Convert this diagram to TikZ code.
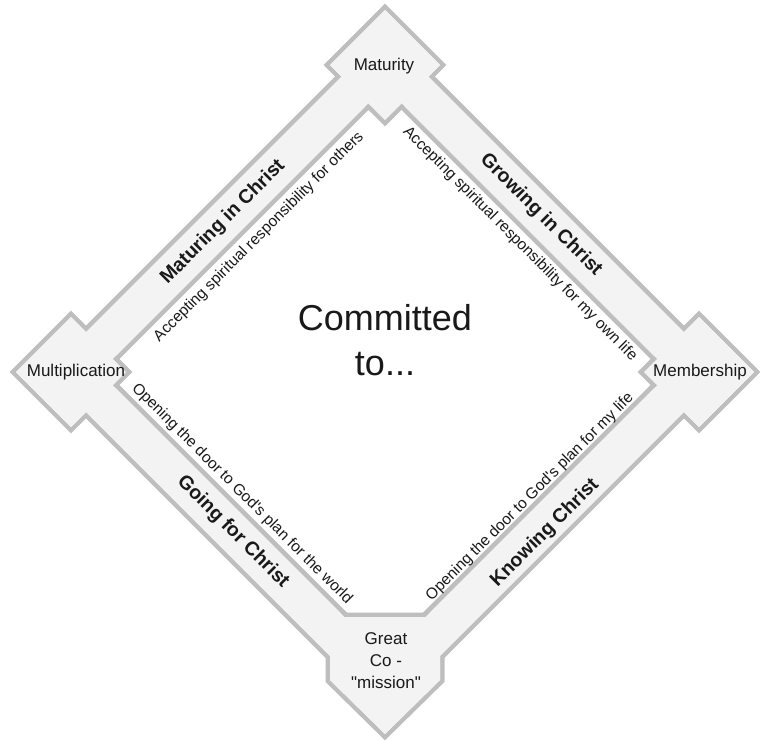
\documentclass[tikz,border=0pt]{standalone}
\usepackage{fontspec}
\newfontfamily\drawfont{Liberation Sans}
\usepackage{xcolor}
\definecolor{bandgray}{RGB}{243,243,243}
\definecolor{edgegray}{RGB}{190,190,190}
\definecolor{inkdark}{RGB}{25,25,25}
\newcommand{\rimwidth}{9pt}
\newcommand{\boxhalf}{55}
\newcommand{\router}{339}
\newcommand{\rinner}{285}
\tikzset{
    rim/.style={draw=edgegray, line width=\rimwidth, line join=miter},
    pane/.style={fill=bandgray},
    tile/.style 2 args={insert path={(#1) ++(0,-#2) -- ++(#2,#2) -- ++(-#2,#2) -- ++(-#2,-#2) -- cycle}},
    lip/.style={insert path={(330,617) -- (440,617) -- (440,680) -- (385,734) -- (330,680) -- cycle}},
    stage/.style={font=\drawfont\fontsize{17}{22}\selectfont, text=inkdark, align=center, inner sep=0pt},
    phase/.style={font=\drawfont\bfseries\fontsize{19.5}{23}\selectfont, text=inkdark, inner sep=0pt},
    aim/.style={font=\drawfont\fontsize{15.5}{18}\selectfont, text=inkdark, inner sep=0pt},
    core/.style={font=\drawfont\fontsize{36}{45}\selectfont, text=inkdark, align=center, inner sep=0pt}
}

\begin{document}
\begin{tikzpicture}[x=1pt, y=-1pt]
          \useasboundingbox (0,0) rectangle (760,740);

          \coordinate (hub) at (385,372);
          \coordinate (maturity) at (385,65);
          \coordinate (multiplication) at (71,372);
          \coordinate (membership) at (699,372);

          % outer rim: strokes first, fills on top
          \path[rim, tile={hub}{\router}];
          \path[rim, tile={maturity}{\boxhalf}];
          \path[rim, tile={multiplication}{\boxhalf}];
          \path[rim, tile={membership}{\boxhalf}];
          \path[rim, lip];
          \path[pane, tile={hub}{\router}];
          \path[pane, tile={maturity}{\boxhalf}];
          \path[pane, tile={multiplication}{\boxhalf}];
          \path[pane, tile={membership}{\boxhalf}];
          \path[pane, lip];

          % inner hole
          \path[fill=white, tile={hub}{\rinner}];
          \begin{scope}
            \clip[tile={hub}{\rinner}];
            \path[rim, tile={hub}{\rinner}];
            \path[rim, tile={maturity}{\boxhalf}];
            \path[rim, tile={multiplication}{\boxhalf}];
            \path[rim, tile={membership}{\boxhalf}];
            \path[rim, lip];
          \end{scope}
          \path[pane, tile={maturity}{\boxhalf}];
          \path[pane, tile={multiplication}{\boxhalf}];
          \path[pane, tile={membership}{\boxhalf}];
          \path[pane, lip];

          \node[stage] (maturity-label) at (384,66) {Maturity};
          \node[stage] (multiplication-label) at (76,372) {Multiplication};
          \node[stage] (membership-label) at (700,372) {Membership};
          \node[stage] (commission-label) at (386,661) {Great\\Co -\\"mission"};

          \node[core] (committed-label) at (385,340) {Committed\\to...};

          \node[phase, rotate=45] (maturing) at (223,222) {Maturing in Christ};
          \node[phase, rotate=-45] (growing) at (541,215) {Growing in Christ};
          \node[phase, rotate=-45] (going) at (233,532) {Going for Christ};
          \node[phase, rotate=45] (knowing) at (545,533) {Knowing Christ};

          \node[aim, rotate=45] (others-aim) at (259,237) {Accepting spiritual responsibility for others};
          \node[aim, rotate=-45] (ownlife-aim) at (520,244) {Accepting spiritual responsibility for my own life};
          \node[aim, rotate=-45] (world-aim) at (242,494) {Opening the door to God's plan for the world};
          \node[aim, rotate=45] (mylife-aim) at (530,497) {Opening the door to God's plan for my life};
        \end{tikzpicture}
\end{document}
